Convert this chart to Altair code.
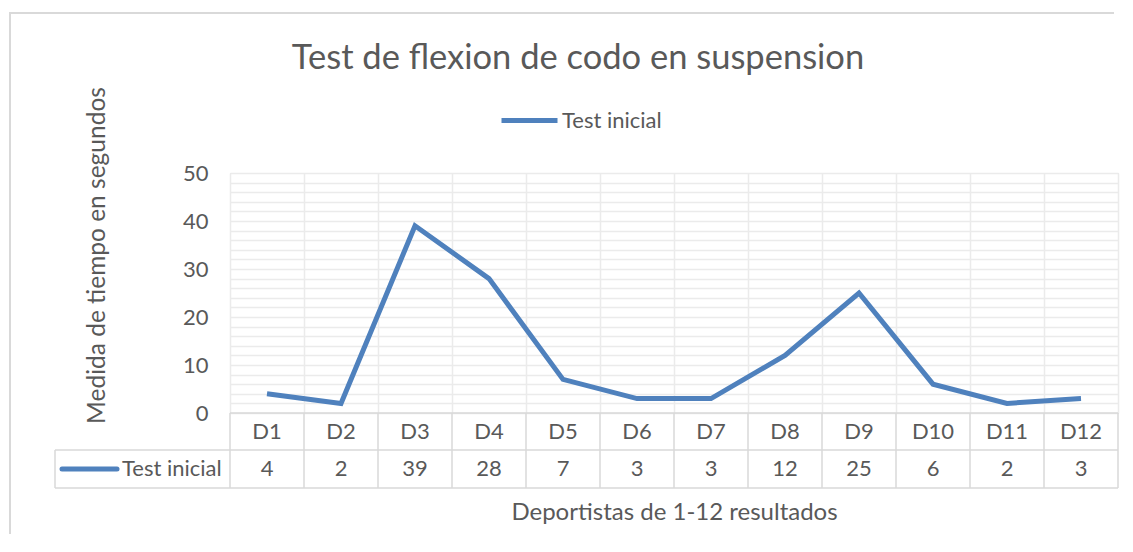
import altair as alt
import pandas as pd

categories = ["D1", "D2", "D3", "D4", "D5", "D6", "D7", "D8", "D9", "D10", "D11", "D12"]
values = [4, 2, 39, 28, 7, 3, 3, 12, 25, 6, 2, 3]
series_name = "Test inicial"
title_text = "Test de flexion de codo en suspension"
x_title = "Deportistas de 1-12 resultados"
y_title = "Medida de tiempo en segundos"

BLUE = "#4F81BD"
TXT = "#595959"
GRID = "#EBEBEB"
BORDER = "#D9D9D9"
FONT = "Lato"

W, H = 888, 240

df = pd.DataFrame({"cat": categories, "val": values, "i": list(range(len(categories))), "serie": series_name})
bounds = pd.DataFrame({"b": list(range(len(categories) + 1))})
one = pd.DataFrame({"k": [0]})

xscale = alt.Scale(domain=[0, len(categories)], nice=False, zero=False)
yscale = alt.Scale(domain=[0, 50], nice=False)

base = alt.Chart(df).transform_calculate(pos="datum.i + 0.5")

frame_left = alt.Chart(one).mark_rect(fill=BORDER, stroke=None).encode(
    x=alt.value(-221), x2=alt.value(-219), y=alt.value(-161), y2=alt.value(366)
)
frame_top = alt.Chart(one).mark_rect(fill=BORDER, stroke=None).encode(
    x=alt.value(-221), x2=alt.value(884), y=alt.value(-161), y2=alt.value(-159)
)

line = base.mark_line(strokeWidth=5).encode(
    x=alt.X("pos:Q", scale=xscale,
            axis=alt.Axis(values=[v / 2 for v in range(0, 2 * len(categories) + 1)],
                          grid=True, gridColor=GRID, gridWidth=1.5, labels=False, ticks=False,
                          domain=False, title=x_title, titleFont=FONT, titleFontSize=24,
                          titleFontWeight="normal", titleColor=TXT, titleX=444, titleY=99,
                          titleBaseline="middle", titleAlign="center")),
    y=alt.Y("val:Q", scale=yscale,
            axis=alt.Axis(values=list(range(0, 51, 2)),
                          labelExpr="datum.value % 10 == 0 ? datum.label : ''",
                          grid=True, gridColor=GRID, gridWidth=1.5, ticks=False, domain=False,
                          labelFont=FONT, labelFontSize=22, labelColor=TXT, labelPadding=22,
                          title=y_title, titleFont=FONT, titleFontSize=24.5, titleFontWeight="normal",
                          titleColor=TXT, titleX=-133, titleY=82, titleAngle=-90,
                          titleAlign="center", titleBaseline="middle")),
    color=alt.Color("serie:N", scale=alt.Scale(range=[BLUE]),
                    legend=alt.Legend(orient="none", legendX=269, legendY=-83, title=None,
                                      symbolType="stroke", symbolSize=3136, symbolStrokeWidth=5,
                                      labelFont=FONT, labelFontSize=22, labelColor=TXT,
                                      labelOffset=2)),
)

title = alt.Chart(one).mark_text(font=FONT, fontSize=34.5, color=TXT, align="center", baseline="middle").encode(
    x=alt.value(348), y=alt.value(-114), text=alt.value(title_text)
)

vlines = alt.Chart(bounds).mark_rule(color=BORDER, strokeWidth=1.5).encode(
    x=alt.X("b:Q", scale=xscale), y=alt.value(240), y2=alt.value(315)
)
h1 = alt.Chart(one).mark_rule(color=BORDER, strokeWidth=1.5).encode(x=alt.value(0), x2=alt.value(W), y=alt.value(240))
h2 = alt.Chart(one).mark_rule(color=BORDER, strokeWidth=1.5).encode(x=alt.value(-175), x2=alt.value(W), y=alt.value(277))
h3 = alt.Chart(one).mark_rule(color=BORDER, strokeWidth=1.5).encode(x=alt.value(-175), x2=alt.value(W), y=alt.value(315))
vl = alt.Chart(one).mark_rule(color=BORDER, strokeWidth=1.5).encode(x=alt.value(-175), y=alt.value(277), y2=alt.value(315))

cat_text = base.mark_text(font=FONT, fontSize=22, color=TXT, baseline="middle").encode(
    x=alt.X("pos:Q", scale=xscale), y=alt.value(259), text="cat:N"
)
val_text = base.mark_text(font=FONT, fontSize=22, color=TXT, baseline="middle").encode(
    x=alt.X("pos:Q", scale=xscale), y=alt.value(296), text="val:Q"
)
key_line = alt.Chart(one).mark_rule(color=BLUE, strokeWidth=5, strokeCap="round").encode(
    x=alt.value(-168), x2=alt.value(-113), y=alt.value(296)
)
key_text = alt.Chart(one).mark_text(font=FONT, fontSize=22, color=TXT, align="left", baseline="middle").encode(
    x=alt.value(-108), y=alt.value(296), text=alt.value(series_name)
)

chart = alt.layer(
    frame_left, frame_top, line, title, vlines, h1, h2, h3, vl, cat_text, val_text, key_line, key_text
).properties(
    width=W, height=H,
    autosize=alt.AutoSizeParams(type="none"),
    padding={"left": 222, "top": 165, "right": 7, "bottom": 121},
).configure_view(stroke=None).configure(background="white")

chart.save("out.html", embed_options={"renderer": "svg", "actions": False})
